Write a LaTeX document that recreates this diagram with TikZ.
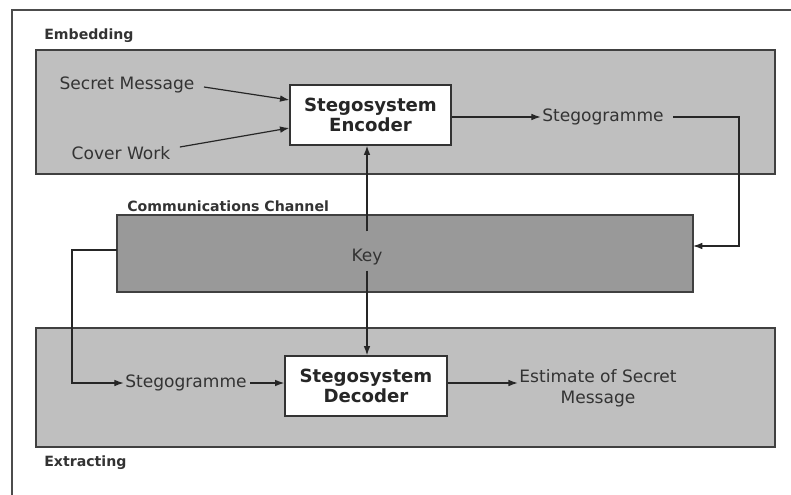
\documentclass[tikz,border=0pt]{standalone}
\usepackage{fontspec}
\setmainfont{DejaVu Sans}
\usetikzlibrary{arrows.meta}
\begin{document}
\begin{tikzpicture}[x=0.75pt,y=-0.75pt,
  panel/.style={draw=black!75,line width=1.2pt,fill=black!25},
  chan/.style={draw=black!75,line width=1.2pt,fill=black!40},
  proc/.style={draw=black!80,line width=1pt,fill=white,align=center,inner sep=0pt,font=\fontsize{13.6}{15.5}\selectfont\bfseries,text=black!85},
  txt/.style={font=\fontsize{12.8}{15.5}\selectfont,text=black!80,inner sep=1pt},
  lbl/.style={font=\fontsize{10.6}{12}\selectfont\bfseries,text=black!80,anchor=west,inner sep=0pt},
  conn/.style={draw=black!85,line width=0.9pt},
  arr/.style={conn,-{Latex[length=7pt,width=5pt]}}]
\useasboundingbox (0,0) rectangle (791,495);
% outer frame, running off the page on the right and at the bottom
\begin{scope}
\clip (0,0) rectangle (791,495);
\draw[black!70,line width=1.2pt] (12,500) -- (12,10) -- (800,10);
\end{scope}
% panels
\draw[panel] (36,50) rectangle (775,174);
\draw[chan] (117,215) rectangle (693,292);
\draw[panel] (36,328) rectangle (775,447);
\node[lbl] (lemb) at (44,36) {Embedding};
\node[lbl] (lchan) at (127,206) {Communications Channel};
\node[lbl] (lext) at (44,463) {Extracting};
% embedding
\node[proc,minimum width=161*0.75pt,minimum height=60*0.75pt] (enc) at (370.5,115) {Stegosystem\\Encoder};
\node[txt] (sm) at (127,85) {Secret Message};
\node[txt] (cw) at (121,153) {Cover Work};
\node[txt] (sg1) at (603,117) {Stegogramme};
% channel
\node[txt] (key) at (367,257) {Key};
\coordinate (chl) at (117,250);
\coordinate (chr) at (693,246);
% extracting
\node[proc,minimum width=162*0.75pt,minimum height=60*0.75pt] (dec) at (366,386) {Stegosystem\\Decoder};
\node[txt] (sg2) at (186,383) {Stegogramme};
\node[txt,align=center] (est) at (598,388) {Estimate of Secret\\Message};
% connectors
\draw[arr] (sm.east) ++(8,2) -- (enc.west |- 0,100);
\draw[arr] (cw.east) ++(8,-6) -- (enc.west |- 0,128);
\draw[arr] (enc.east |- sg1) -- (sg1.west);
\draw[arr] (sg1.east) ++(8,0) -| (739,246) -- (chr);
\draw[arr] (key.north) ++(0,-16) -- (enc.south -| key);
\draw[arr] (key.south) ++(0,4) -- (dec.north -| key);
\draw[arr] (chl) -| (72,383) -- (sg2.west);
\draw[arr] (sg2.east) ++(2,0) -- (dec.west |- sg2);
\draw[arr] (dec.east |- sg2) -- (est.west |- sg2);
\end{tikzpicture}
\end{document}
